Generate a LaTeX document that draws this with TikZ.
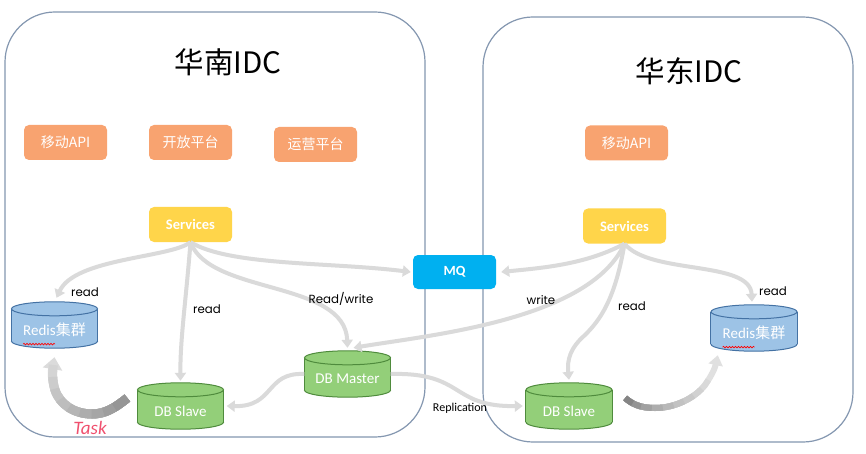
\documentclass[tikz,border=0pt]{standalone}
\usepackage{fontspec}
\setmainfont{Carlito}
\newfontfamily\cjk{Noto Sans CJK SC}
\newfontfamily\gothic{Poppins}
\usetikzlibrary{arrows.meta,calc,decorations.pathmorphing}
\definecolor{orangebox}{HTML}{F8A370}
\definecolor{yellowbox}{HTML}{FFD54A}
\definecolor{mqblue}{HTML}{00B0F0}
\definecolor{dbgreen}{HTML}{93CF79}
\definecolor{dbgreenline}{HTML}{4F8B3D}
\definecolor{redisblue}{HTML}{9DC3E6}
\definecolor{redisline}{HTML}{4472A4}
\definecolor{idcline}{HTML}{8497B0}
\definecolor{flowgray}{HTML}{DADADA}
\definecolor{taskred}{HTML}{F0506E}
\tikzset{
  idcbox/.style={draw=idcline,line width=1.2pt,rounded corners=50pt},
  appbox/.style={fill=orangebox,rounded corners=5pt,minimum width=83pt,minimum height=35pt,inner sep=0pt,text=white,font=\cjk\fontsize{14}{16}\selectfont},
  svcbox/.style={fill=yellowbox,rounded corners=5pt,minimum width=83pt,minimum height=35pt,inner sep=0pt,text=white,font=\bfseries\fontsize{14.5}{16}\selectfont},
  mqbox/.style={fill=mqblue,rounded corners=5pt,minimum width=83pt,minimum height=34pt,inner sep=0pt,text=white,font=\bfseries\fontsize{14}{16}\selectfont},
  celltext/.style={text=white,inner sep=0pt,font=\fontsize{15}{17}\selectfont},
  flow/.style={draw=flowgray,line width=4pt,-{Triangle[width=11pt,length=8pt]}},
  flowlabel/.style={inner sep=0pt,font=\gothic\fontsize{11.8}{13}\selectfont},
  titletext/.style={inner sep=0pt,font=\cjk\fontsize{29.5}{32}\selectfont}
}
\newcommand\dbcyl[6]{%
  \node[minimum width=86pt,minimum height=46pt,inner sep=0pt] (#1) at (#2,#3) {};
  \filldraw[fill=#4,draw=#5,line width=1pt] ([yshift=7pt]#1.south) ellipse [x radius=43pt,y radius=7pt];
  \fill[#4] ([yshift=7pt]#1.south west) rectangle ([yshift=-7pt]#1.north east);
  \draw[#5,line width=1pt] ([yshift=7pt]#1.south west) -- ([yshift=-7pt]#1.north west)
        ([yshift=7pt]#1.south east) -- ([yshift=-7pt]#1.north east);
  \filldraw[fill=#4,draw=#5,line width=1pt] ([yshift=-7pt]#1.north) ellipse [x radius=43pt,y radius=7pt];
  \node[celltext] (#1-label) at ([yshift=-5pt]#1.center) {#6};
}
\begin{document}
\begin{tikzpicture}[x=1pt,y=-1pt]
\useasboundingbox (0,0) rectangle (866,454);
\fill[white] (0,0) rectangle (866,454);

% containers
\draw[idcbox] (5,12) rectangle (425,437);
\draw[idcbox] (483,17) rectangle (853,442);
\node[titletext] (tl) at (228,62) {华南IDC};
\node[titletext] (tr) at (689,71) {华东IDC};

% app boxes
\node[appbox] (ml) at (65.5,142.5) {移动API};
\node[appbox] (kf) at (190.5,142.5) {开放平台};
\node[appbox] (yy) at (315.5,144.5) {运营平台};
\node[appbox] (mr) at (626.5,143) {移动API};

% services & MQ
\node[svcbox] (sl) at (190.5,224.5) {Services};
\node[svcbox] (sr) at (624.5,226) {Services};
\node[mqbox] (mq) at (454.5,272) {MQ};

% databases
\dbcyl{rl}{54.5}{325}{redisblue}{redisline}{Redis{\cjk 集群}}
\dbcyl{rr}{754}{328}{redisblue}{redisline}{Redis{\cjk 集群}}
\dbcyl{dsl}{180.5}{406}{dbgreen}{dbgreenline}{DB Slave}
\dbcyl{dbm}{347.5}{374}{dbgreen}{dbgreenline}{DB Master}
\dbcyl{dsr}{569}{406}{dbgreen}{dbgreenline}{DB Slave}

% spell-check squiggles
\draw[red,line width=0.6pt,decorate,decoration={snake,amplitude=0.8pt,segment length=3pt}]
  ([yshift=-7pt]rl-label.south west) -- ++(32,0);
\draw[red,line width=0.6pt,decorate,decoration={snake,amplitude=0.8pt,segment length=3pt}]
  ([yshift=-7pt]rr-label.south west) -- ++(32,0);

% left flows
\draw[flow] (sl.south) .. controls (170,258) and (75,258) .. ([shift={(2pt,4pt)}]rl.north);
\draw[flow] (sl.south) .. controls (186,300) and (180,340) .. ([yshift=2pt]dsl.north);
\draw[flow] (sl.south) .. controls (210,295) and (345,280) .. ([yshift=3pt]dbm.north);
\draw[flow] (sl.south) .. controls (230,266) and (330,262) .. ([xshift=-2pt]mq.west);
% right flows
\draw[flow] (sr.south) .. controls (585,265) and (540,268) .. ([xshift=5pt]mq.east);
\draw[flow] (sr.south) .. controls (590,320) and (430,335) .. ([shift={(6pt,3pt)}]dbm.north);
\draw[flow] (sr.south) .. controls (615,300) and (600,320) .. (585,335)
            .. controls (570,348) and (567,360) .. ([yshift=3pt]dsr.north);
\draw[flow] (sr.south) .. controls (650,275) and (750,260) .. ([shift={(-2pt,3pt)}]rr.north);
% replication
\draw[flow] (dbm.west) .. controls (265,372) and (275,407) .. ([xshift=3pt]dsl.east);
\draw[flow] (dbm.east) .. controls (465,372) and (450,407) .. ([xshift=-3pt]dsr.west);

% task arrows (stepped grey gradient, dark at the start)
\coordinate (tls) at ([shift={(-10pt,8pt)}]dsl.west);
\coordinate (tle) at ([yshift=-9pt]rl.south);
\draw[draw=black!14,line width=9pt,-{Triangle[width=19pt,length=12pt]}]
  (tls) .. controls (115,408) and (105,414) .. (92,414)
  .. controls (75,414) and (60,405) .. (55,390)
  .. controls (52,380) and (52,372) .. (tle);
\foreach \len/\shade in {112/17,100/20,88/23,76/26,64/29,52/32,40/35,28/38,16/41}{
  \draw[draw=black!\shade,line width=9pt,dash pattern=on \len pt off 1000pt]
    (tls) .. controls (115,408) and (105,414) .. (92,414)
    .. controls (75,414) and (60,405) .. (55,390)
    .. controls (52,380) and (52,372) .. (tle);
}

\coordinate (trs) at ([shift={(13pt,8pt)}]dsr.east);
\coordinate (tre) at ([shift={(7pt,-4pt)}]rr.south west);
\draw[draw=black!12,line width=6pt,-{Triangle[width=14pt,length=10pt]}]
  (trs) .. controls (632,404) and (640,408) .. (655,408)
  .. controls (675,408) and (695,398) .. (705,385)
  .. controls (712,375) and (715,368) .. (tre);
\foreach \len/\shade in {95/15,84/18,73/21,62/24,51/28,40/32,29/37,18/42,9/48}{
  \draw[draw=black!\shade,line width=6pt,dash pattern=on \len pt off 1000pt]
    (trs) .. controls (632,404) and (640,408) .. (655,408)
    .. controls (675,408) and (695,398) .. (705,385)
    .. controls (712,375) and (715,368) .. (tre);
}

% labels
\node[flowlabel] (lr1) at (85,292) {read};
\node[flowlabel] (lr2) at (207,309) {read};
\node[flowlabel] (lrw) at (341,299) {Read/write};
\node[flowlabel] (rw) at (541,300) {write};
\node[flowlabel] (rr1) at (632,306) {read};
\node[flowlabel] (rr2) at (773,291) {read};
\node[inner sep=0pt,font=\fontsize{12}{14}\selectfont] (repl) at (460,408) {Replication};
\node[inner sep=0pt,text=taskred,font=\itshape\fontsize{19}{21}\selectfont] (task) at (90,428) {Task};
\end{tikzpicture}
\end{document}
